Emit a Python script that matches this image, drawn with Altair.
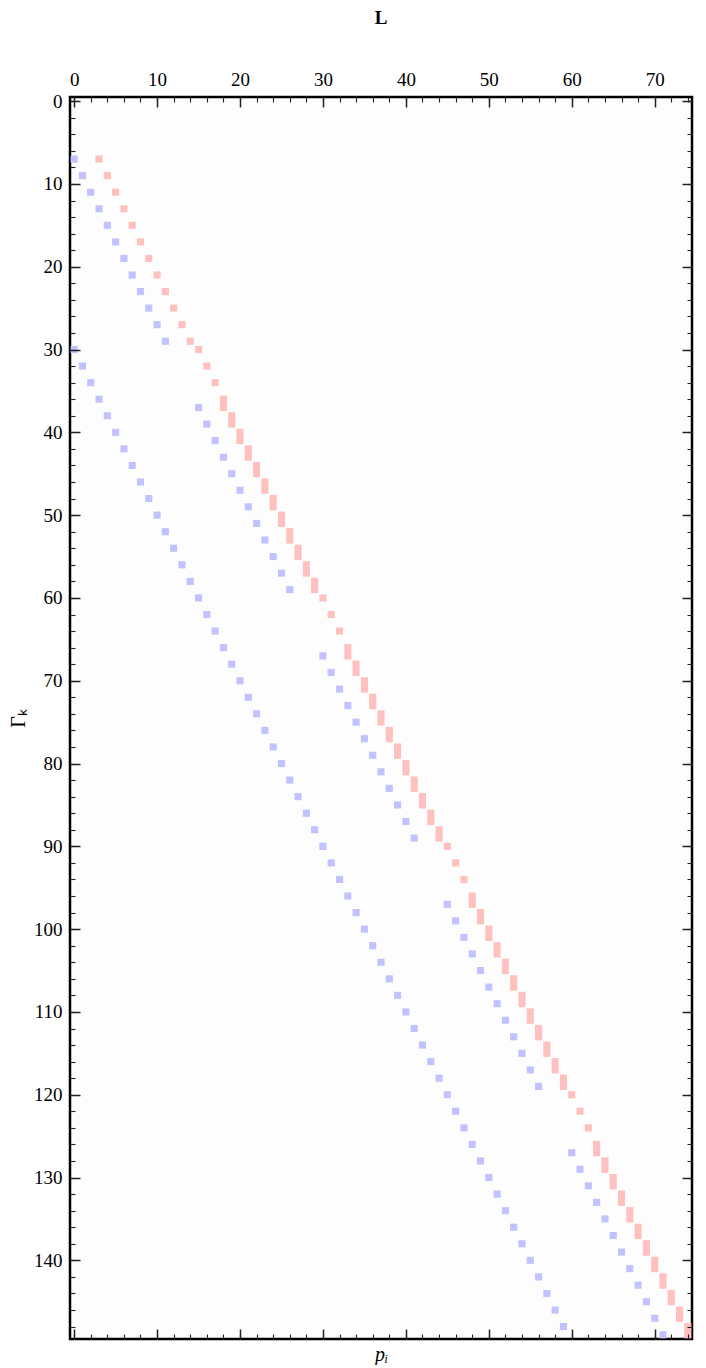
import altair as alt
import pandas as pd

# ---- data (row index, column index) ----
red_single_rows = [7, 9, 11, 13, 15, 17, 19, 21, 23, 25, 27, 29,
                   30, 32, 34, 60, 62, 64, 90, 92, 94, 120, 122, 124]
red_single_cols = [3, 4, 5, 6, 7, 8, 9, 10, 11, 12, 13, 14,
                   15, 16, 17, 30, 31, 32, 45, 46, 47, 60, 61, 62]

red_tall_rows = [36, 38, 40, 42, 44, 46, 48, 50, 52, 54, 56, 58,
                 66, 68, 70, 72, 74, 76, 78, 80, 82, 84, 86, 88,
                 96, 98, 100, 102, 104, 106, 108, 110, 112, 114, 116, 118,
                 126, 128, 130, 132, 134, 136, 138, 140, 142, 144, 146, 148]
red_tall_cols = [18, 19, 20, 21, 22, 23, 24, 25, 26, 27, 28, 29,
                 33, 34, 35, 36, 37, 38, 39, 40, 41, 42, 43, 44,
                 48, 49, 50, 51, 52, 53, 54, 55, 56, 57, 58, 59,
                 63, 64, 65, 66, 67, 68, 69, 70, 71, 72, 73, 74]

blue_low_rows = [30, 32, 34, 36, 38, 40, 42, 44, 46, 48, 50, 52, 54, 56, 58,
                 60, 62, 64, 66, 68, 70, 72, 74, 76, 78, 80, 82, 84, 86, 88,
                 90, 92, 94, 96, 98, 100, 102, 104, 106, 108, 110, 112, 114, 116, 118,
                 120, 122, 124, 126, 128, 130, 132, 134, 136, 138, 140, 142, 144, 146, 148]
blue_low_cols = [0, 1, 2, 3, 4, 5, 6, 7, 8, 9, 10, 11, 12, 13, 14,
                 15, 16, 17, 18, 19, 20, 21, 22, 23, 24, 25, 26, 27, 28, 29,
                 30, 31, 32, 33, 34, 35, 36, 37, 38, 39, 40, 41, 42, 43, 44,
                 45, 46, 47, 48, 49, 50, 51, 52, 53, 54, 55, 56, 57, 58, 59]

blue_mid_rows = [7, 9, 11, 13, 15, 17, 19, 21, 23, 25, 27, 29,
                 37, 39, 41, 43, 45, 47, 49, 51, 53, 55, 57, 59,
                 67, 69, 71, 73, 75, 77, 79, 81, 83, 85, 87, 89,
                 97, 99, 101, 103, 105, 107, 109, 111, 113, 115, 117, 119,
                 127, 129, 131, 133, 135, 137, 139, 141, 143, 145, 147, 149]
blue_mid_cols = [0, 1, 2, 3, 4, 5, 6, 7, 8, 9, 10, 11,
                 15, 16, 17, 18, 19, 20, 21, 22, 23, 24, 25, 26,
                 30, 31, 32, 33, 34, 35, 36, 37, 38, 39, 40, 41,
                 45, 46, 47, 48, 49, 50, 51, 52, 53, 54, 55, 56,
                 60, 61, 62, 63, 64, 65, 66, 67, 68, 69, 70, 71]

x_major = [0, 10, 20, 30, 40, 50, 60, 70]
y_major = [0, 10, 20, 30, 40, 50, 60, 70, 80, 90, 100, 110, 120, 130, 140]
x_minor = list(range(0, 75, 2))
y_minor = list(range(0, 150, 2))

N_COLS = 75
N_ROWS = 150
INSET = 0.07

FONT = "Liberation Serif"
BLUE = "#c2c2ff"
RED = "#ffc0c0"
TICK = "#222222"


def cells(rows, cols, h):
    return pd.DataFrame({
        "x": [c - 0.5 + INSET for c in cols],
        "x2": [c + 0.5 - INSET for c in cols],
        "y": [r - 0.5 + INSET for r in rows],
        "y2": [r - 0.5 + h - INSET for r in rows],
    })


red_df = pd.concat([cells(red_single_rows, red_single_cols, 1),
                    cells(red_tall_rows, red_tall_cols, 2)], ignore_index=True)
blue_df = pd.concat([cells(blue_low_rows, blue_low_cols, 1),
                     cells(blue_mid_rows, blue_mid_cols, 1)], ignore_index=True)

xscale = alt.Scale(domain=[-0.5, N_COLS - 0.5], nice=False, zero=False)
yscale = alt.Scale(domain=[-0.5, N_ROWS - 0.5], nice=False, zero=False, reverse=True)


def ax(orient, values, size, labels, title=None, **kw):
    return alt.Axis(orient=orient, values=values, tickSize=size, offset=-size,
                    domain=False, grid=False, labels=labels, tickColor=TICK,
                    tickWidth=1.5 if size > 6 else 1.1, zindex=1,
                    labelFont=FONT, labelFontSize=19, labelFontWeight="normal",
                    labelColor="black", title=title, **kw)


def layer(df, color, opacity, xaxis, yaxis):
    return alt.Chart(df).mark_rect(color=color, opacity=opacity).encode(
        x=alt.X("x:Q", scale=xscale, axis=xaxis),
        x2="x2:Q",
        y=alt.Y("y:Q", scale=yscale, axis=yaxis),
        y2="y2:Q",
    )


l_red = layer(red_df, RED, 1,
              ax("top", x_major, 10, True, labelPadding=8, labelFlush=False),
              ax("left", y_major, 10, True, title="Γₖ", labelPadding=8,
                 titleFont=FONT, titleFontSize=20, titleFontWeight="normal",
                 titlePadding=5, titleColor="black"))
l_blue = layer(blue_df, BLUE, 1,
               ax("top", x_minor, 5, False),
               ax("left", y_minor, 5, False))
l_d1 = layer(blue_df, BLUE, 0,
             ax("bottom", x_major, 10, False, title="pᵢ",
                titleFont=FONT, titleFontSize=20, titleFontWeight="normal",
                titleFontStyle="italic", titlePadding=5, titleColor="black"),
             ax("right", y_major, 10, False))
l_d2 = layer(blue_df, BLUE, 0,
             ax("bottom", x_minor, 5, False),
             ax("right", y_minor, 5, False))

chart = alt.layer(l_d1, l_d2, l_red, l_blue).resolve_axis(
    x="independent", y="independent"
).properties(
    width=622,
    height=1242,
    padding={"left": 62, "top": 89, "right": 4, "bottom": 26},
    autosize=alt.AutoSizeParams(type="none"),
    title=alt.TitleParams(text="L", font=FONT, fontSize=19, fontWeight="bold",
                          anchor="middle", offset=42, color="black"),
).configure(
    background="white", font=FONT
).configure_axis(
    labelFont=FONT, labelFontSize=19, labelFontWeight="normal", titleFont=FONT
).configure_view(
    stroke="black", strokeWidth=2.5, fill="#fdfdfd"
)

chart.save("out.html", embed_options={"renderer": "svg", "actions": False})
